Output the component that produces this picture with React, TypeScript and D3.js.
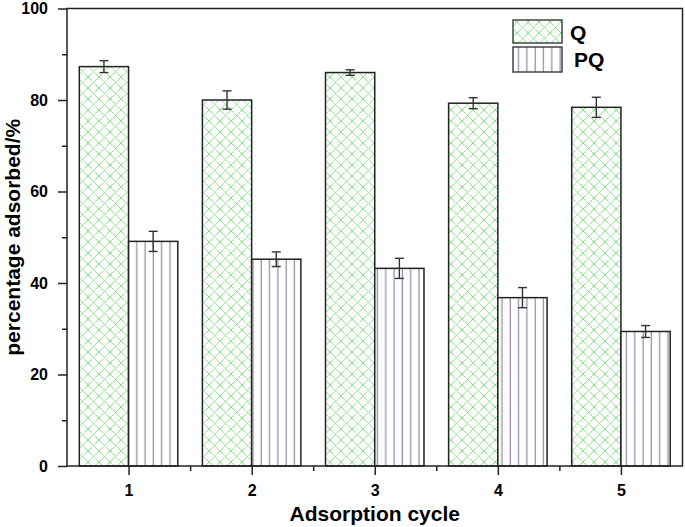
import React, { useRef, useEffect } from 'react';
import { select, scaleLinear, axisLeft, axisBottom, range, format } from 'd3';

const cycles = [1, 2, 3, 4, 5];
const qValues = [87.3, 80.0, 86.0, 79.3, 78.4];
const qErrors = [1.3, 2.0, 0.6, 1.2, 2.2];
const pqValues = [49.1, 45.2, 43.2, 36.8, 29.4];
const pqErrors = [2.2, 1.6, 2.2, 2.2, 1.3];
const yTicks = [0, 20, 40, 60, 80, 100];
const seriesNames = ['Q', 'PQ'];

const W = 685;
const H = 527;
const font = '"Liberation Sans", Arial, sans-serif';

const BarChart = () => {
  const svgRef = useRef<SVGSVGElement>(null);

  useEffect(() => {
    const svg = select(svgRef.current);
    svg.selectAll('*').remove();

    // scales
    const x = scaleLinear().domain([0.5, 5.5]).range([67, 682.5]);
    const y = scaleLinear().domain([0, 100]).range([466, 8.5]);
    const step = x(2) - x(1);
    const bw = step * 0.4;

    // patterns
    const defs = svg.append('defs');
    const hatch = defs
      .append('pattern')
      .attr('id', 'cross')
      .attr('patternUnits', 'userSpaceOnUse')
      .attr('width', 11)
      .attr('height', 11);
    hatch.append('rect').attr('width', 11).attr('height', 11).attr('fill', '#fff');
    hatch
      .append('path')
      .attr('d', 'M0,0L11,11M11,0L0,11M-1,10L1,12M10,-1L12,1M-1,1L1,-1M10,12L12,10')
      .attr('stroke', '#58e258')
      .attr('stroke-width', 0.9)
      .attr('stroke-dasharray', '1.2,0.4');

    const vert = defs
      .append('pattern')
      .attr('id', 'vert')
      .attr('patternUnits', 'userSpaceOnUse')
      .attr('width', 8.3)
      .attr('height', 10);
    vert.append('rect').attr('width', 8.3).attr('height', 10).attr('fill', '#fff');
    vert
      .append('line')
      .attr('x1', 4)
      .attr('x2', 4)
      .attr('y1', 0)
      .attr('y2', 10)
      .attr('stroke', '#9a90a8')
      .attr('stroke-width', 1.3);

    // bars
    const drawSeries = (vals: number[], errs: number[], offset: number, fill: string) => {
      const g = svg.append('g');
      g.selectAll('rect')
        .data(vals)
        .join('rect')
        .attr('x', (d, i) => x(cycles[i]) + offset)
        .attr('y', (d) => y(d))
        .attr('width', bw)
        .attr('height', (d) => y(0) - y(d))
        .attr('fill', fill)
        .attr('stroke', '#222')
        .attr('stroke-width', 1.5);

      const e = svg.append('g').attr('stroke', '#333').attr('stroke-width', 1.4);
      vals.forEach((v, i) => {
        const cx = x(cycles[i]) + offset + bw / 2;
        const top = y(v + errs[i]);
        const bot = y(v - errs[i]);
        e.append('line').attr('x1', cx).attr('x2', cx).attr('y1', top).attr('y2', bot);
        e.append('line').attr('x1', cx - 4.5).attr('x2', cx + 4.5).attr('y1', top).attr('y2', top);
        e.append('line').attr('x1', cx - 4.5).attr('x2', cx + 4.5).attr('y1', bot).attr('y2', bot);
      });
    };
    drawSeries(qValues, qErrors, -bw, 'url(#cross)');
    drawSeries(pqValues, pqErrors, 0, 'url(#vert)');

    // frame
    svg
      .append('rect')
      .attr('x', x(0.5))
      .attr('y', y(100))
      .attr('width', x(5.5) - x(0.5))
      .attr('height', y(0) - y(100))
      .attr('fill', 'none')
      .attr('stroke', '#222')
      .attr('stroke-width', 1.5);

    // axes
    const minorY = svg.append('g').attr('transform', `translate(${x(0.5)},0)`);
    minorY
      .call(axisLeft(y).tickValues(range(10, 100, 20)).tickSize(5).tickFormat(() => ''))
      .call((s) => s.select('.domain').remove());
    const yAxis = svg.append('g').attr('transform', `translate(${x(0.5)},0)`);
    yAxis
      .call(axisLeft(y).tickValues(yTicks).tickSize(9).tickPadding(10))
      .call((s) => s.select('.domain').remove());

    const minorX = svg.append('g').attr('transform', `translate(0,${y(0)})`);
    minorX
      .call(axisBottom(x).tickValues([1.5, 2.5, 3.5, 4.5]).tickSize(5).tickFormat(() => ''))
      .call((s) => s.select('.domain').remove());
    const xAxis = svg.append('g').attr('transform', `translate(0,${y(0)})`);
    xAxis
      .call(axisBottom(x).tickValues(cycles).tickSize(9).tickPadding(10).tickFormat(format('d')))
      .call((s) => s.select('.domain').remove());

    svg
      .selectAll('.tick line')
      .attr('stroke', '#222')
      .attr('stroke-width', 1.5);
    svg
      .selectAll('.tick text')
      .attr('font-family', font)
      .attr('font-weight', 'bold')
      .attr('font-size', 16)
      .attr('fill', '#000');

    // axis titles
    svg
      .append('text')
      .attr('x', x(3))
      .attr('y', 521)
      .attr('text-anchor', 'middle')
      .attr('font-family', font)
      .attr('font-weight', 'bold')
      .attr('font-size', 21)
      .text('Adsorption cycle');
    svg
      .append('text')
      .attr('transform', `translate(20,${y(50)}) rotate(-90)`)
      .attr('text-anchor', 'middle')
      .attr('font-family', font)
      .attr('font-weight', 'bold')
      .attr('font-size', 21)
      .text('percentage adsorbed/%');

    // legend
    const fills = ['url(#cross)', 'url(#vert)'];
    const lg = svg.append('g');
    seriesNames.forEach((name, i) => {
      lg.append('rect')
        .attr('x', 513)
        .attr('y', 20 + i * 27)
        .attr('width', 49)
        .attr('height', 23 + (i === 1 ? 2 : 0))
        .attr('fill', fills[i])
        .attr('stroke', '#444')
        .attr('stroke-width', 1.5);
      lg.append('text')
        .attr('x', i === 0 ? 570 : 574)
        .attr('y', 40 + i * 27)
        .attr('font-family', font)
        .attr('font-weight', 'bold')
        .attr('font-size', 21)
        .text(name);
    });
  }, []);

  return (
    <svg
      ref={svgRef}
      width={W}
      height={H}
      style={{ position: 'absolute', left: 0, top: 0, background: '#fff' }}
    ></svg>
  );
};

export default function App() {
  return <BarChart />;
}
